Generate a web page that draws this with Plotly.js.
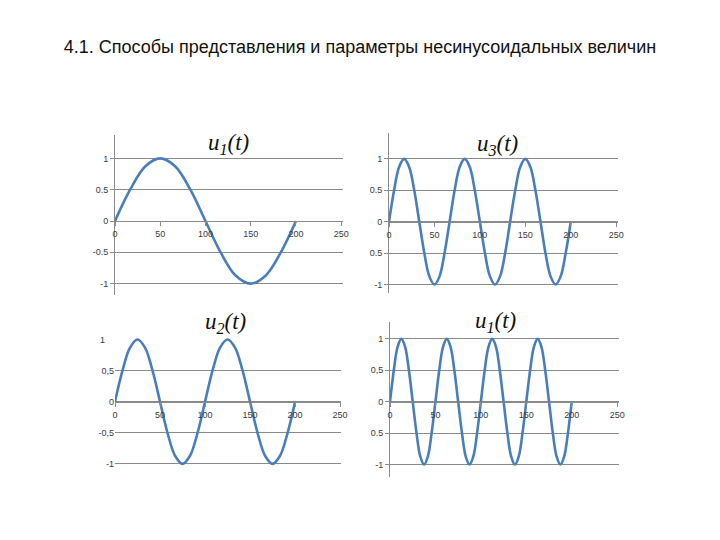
<!DOCTYPE html>
<html>
<head>
<meta charset="utf-8">
<script src="https://cdn.plot.ly/plotly-3.0.1.min.js"></script>
<style>html,body{margin:0;padding:0;background:#fff;}#chart{width:720px;height:540px;}</style>
</head>
<body>
<div id="chart"></div>
<script>
// ---- data ----
const mainTitle = "4.1. Способы представления и параметры несинусоидальных величин";
const xTicks = [0, 50, 100, 150, 200, 250];
const yTicks = [-1, -0.5, 0, 0.5, 1];

const yText1 = ["-1", "-0.5", "0", "0.5", "1"];
const yText2 = ["-1", "0.5", "0", "0.5", "1"];
const yText3 = ["-1", "-0,5", "0", "0,5"];
const yText4 = ["-1", "0.5", "0", "0,5", "1"];

const t1 = [0,16.7,33.3,50,66.7,83.3,100,116.7,133.3,150,166.7,183.3,200];
const u1 = [0,0.5,0.87,1,0.87,0.5,0,-0.5,-0.87,-1,-0.87,-0.5,0];

const t2 = [0,8.3,16.7,25,33.3,41.7,50,58.3,66.7,75,83.3,91.7,100,108.3,116.7,125,133.3,141.7,150,158.3,166.7,175,183.3,191.7,200];
const u2 = [0,0.5,0.87,1,0.87,0.5,0,-0.5,-0.87,-1,-0.87,-0.5,0,0.5,0.87,1,0.87,0.5,0,-0.5,-0.87,-1,-0.87,-0.5,0];

const t3 = [0,5.6,11.1,16.7,22.2,27.8,33.3,38.9,44.4,50,55.6,61.1,66.7,72.2,77.8,83.3,88.9,94.4,100,105.6,111.1,116.7,122.2,127.8,133.3,138.9,144.4,150,155.6,161.1,166.7,172.2,177.8,183.3,188.9,194.4,200];
const u3 = [0,0.5,0.87,1,0.87,0.5,0,-0.5,-0.87,-1,-0.87,-0.5,0,0.5,0.87,1,0.87,0.5,0,-0.5,-0.87,-1,-0.87,-0.5,0,0.5,0.87,1,0.87,0.5,0,-0.5,-0.87,-1,-0.87,-0.5,0];

const t4 = [0,4.2,8.3,12.5,16.7,20.8,25,29.2,33.3,37.5,41.7,45.8,50,54.2,58.3,62.5,66.7,70.8,75,79.2,83.3,87.5,91.7,95.8,100,104.2,108.3,112.5,116.7,120.8,125,129.2,133.3,137.5,141.7,145.8,150,154.2,158.3,162.5,166.7,170.8,175,179.2,183.3,187.5,191.7,195.8,200];
const u4 = [0,0.5,0.87,1,0.87,0.5,0,-0.5,-0.87,-1,-0.87,-0.5,0,0.5,0.87,1,0.87,0.5,0,-0.5,-0.87,-1,-0.87,-0.5,0,0.5,0.87,1,0.87,0.5,0,-0.5,-0.87,-1,-0.87,-0.5,0,0.5,0.87,1,0.87,0.5,0,-0.5,-0.87,-1,-0.87,-0.5,0];

const titles = ["u", "u", "u", "u"];
const subs = ["1", "3", "2", "1"];

// ---- layout helpers ----
const W = 720, H = 540;
const LINE = "#4a7ebb", GRID = "#8a8a8a", TXT = "#3a3a3a";
const px = v => v / W;
const py = v => 1 - v / H;

// [x0px, x1px, xmax, yTopPx, yBotPx, yZeroPx, yUnitPx, titleX, titleY, showYLine]
const geo = [
  [115, 343, 252, 135, 295, 221.0, 62.6, 228, 144, true],
  [389, 618, 252, 133, 293, 221.7, 62.85, 497, 145, true],
  [115, 341, 251, 330, 470, 401.7, 62.15, 225, 323, false],
  [390, 619, 252, 322, 477, 401.7, 62.85, 495, 322, true]
];
const series = [[t1, u1], [t3, u3], [t2, u2], [t4, u4]];
const yTexts = [yText1, yText2, yText3, yText4];

const data = [];
const layout = {
  width: W, height: H,
  margin: {l: 0, r: 0, t: 0, b: 0},
  paper_bgcolor: "#ffffff", plot_bgcolor: "rgba(0,0,0,0)",
  showlegend: false,
  title: {text: mainTitle, x: 0.5, xanchor: "center", y: py(47), yanchor: "middle",
          font: {family: "Liberation Sans, Arial, sans-serif", size: 18, color: "#111"}},
  annotations: []
};

geo.forEach((g, i) => {
  const [x0, x1, xmax, yt, yb, y0, unit, tx, ty, showY] = g;
  const n = i + 1;
  const xa = "xaxis" + (n === 1 ? "" : n), ya = "yaxis" + (n === 1 ? "" : n);
  const xr = "x" + (n === 1 ? "" : n), yr = "y" + (n === 1 ? "" : n);
  const yTop = (y0 - yt) / unit, yBot = -(yb - y0) / unit;
  data.push({x: series[i][0], y: series[i][1], type: "scatter", mode: "lines",
             line: {color: LINE, width: 2.6, shape: "spline", smoothing: 1},
             xaxis: xr, yaxis: yr, hoverinfo: "skip"});
  layout[xa] = {
    domain: [px(x0), px(x1)], range: [0, xmax], anchor: "free", position: py(y0),
    showline: true, linecolor: GRID, linewidth: 1,
    ticks: "outside", ticklen: 4, tickcolor: GRID,
    tickvals: xTicks, ticktext: xTicks.map(String),
    showgrid: false, zeroline: false,
    tickfont: {family: "Liberation Sans, Arial, sans-serif", size: 9, color: TXT},
    fixedrange: true
  };
  const yvals = yTexts[i].length === 5 ? yTicks : yTicks.slice(0, 4);
  layout[ya] = {
    domain: [py(yb), py(yt)], range: [yBot, yTop], anchor: xr,
    showline: showY, linecolor: GRID, linewidth: 1,
    ticks: showY ? "outside" : "", ticklen: 4, tickcolor: GRID,
    tickvals: yvals, ticktext: yTexts[i],
    showgrid: true, gridcolor: GRID, gridwidth: 1, zeroline: false,
    tickfont: {family: "Liberation Sans, Arial, sans-serif", size: 9, color: TXT},
    fixedrange: true
  };
  if (!showY) {
    layout.annotations.push({xref: xr, yref: yr, x: 0, y: 1, xanchor: "right", yanchor: "middle",
      xshift: -8, text: "1", showarrow: false,
      font: {family: "Liberation Sans, Arial, sans-serif", size: 9, color: TXT}});
  }
  layout.annotations.push({xref: "paper", yref: "paper", x: px(tx), y: py(ty),
    xanchor: "center", yanchor: "middle", showarrow: false,
    text: "<i>" + titles[i] + "<sub>" + subs[i] + "</sub>(t)</i>",
    font: {family: "Liberation Serif, Times New Roman, serif", size: 23, color: "#111"}});
});

Plotly.newPlot("chart", data, layout, {staticPlot: true, displayModeBar: false});
</script>
</body>
</html>
